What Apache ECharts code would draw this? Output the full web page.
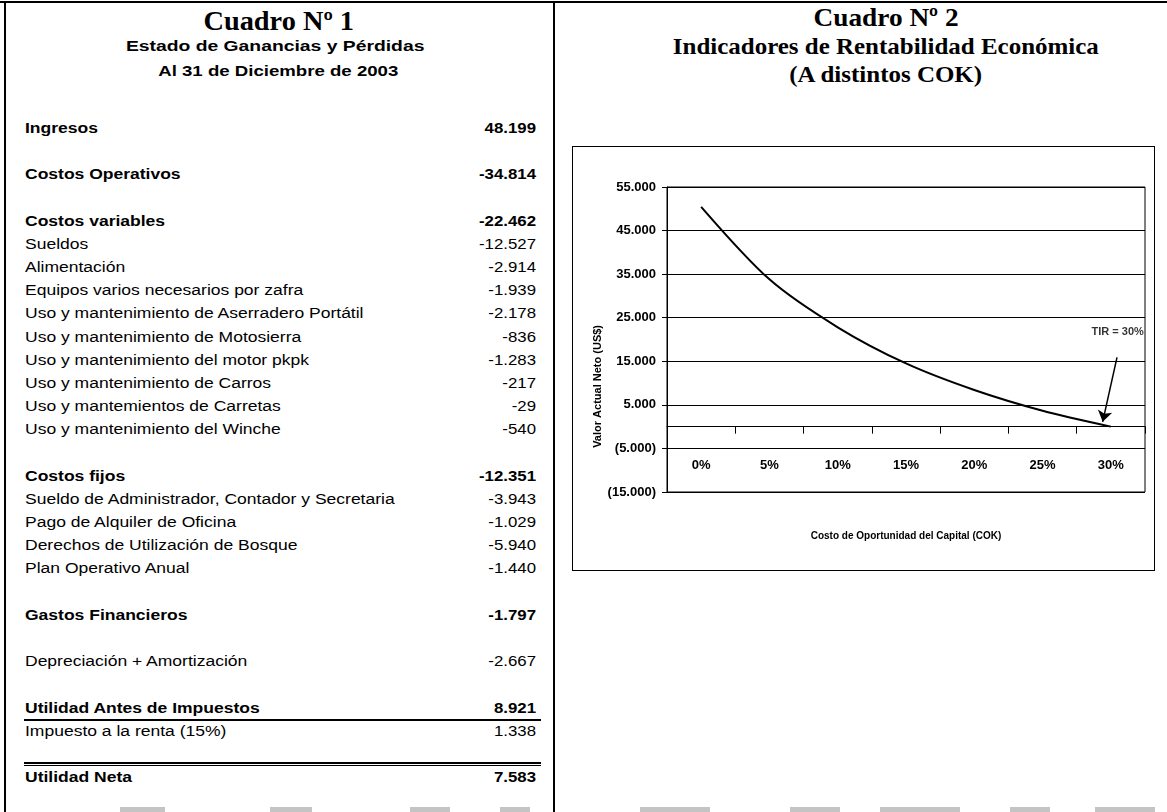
<!DOCTYPE html>
<html>
<head>
<meta charset="utf-8">
<script src="https://cdn.jsdelivr.net/npm/echarts@6/dist/echarts.min.js"></script>
<style>
  html, body { margin:0; padding:0; background:#fff; }
  body { width:1167px; height:812px; position:relative; overflow:hidden; color:#000;
         font-family:"Liberation Sans", Arial, sans-serif; }
  .abs { position:absolute; white-space:nowrap; }
  .serif { font-family:"Liberation Serif","Times New Roman",serif; font-weight:bold; }
  .row { font-size:14px; line-height:18px; height:18px; }
  .bold { font-weight:bold; }
  .rule { position:absolute; background:#000; }
  .scan { position:absolute; background:#c4c4c4; }
</style>
</head>
<body>
<div id="chart" style="position:absolute;left:572px;top:146px;width:583px;height:425px;border:1px solid #000;box-sizing:border-box;"></div>
<script>
// ---------------- DATA ----------------
const table1Title = 'Cuadro Nº 1';
const table1Sub = ['Estado de Ganancias y Pérdidas', 'Al 31 de Diciembre de 2003'];
// "" = empty spacer row
const tableLabels = [
  'Ingresos', '', 'Costos Operativos', '', 'Costos variables', 'Sueldos', 'Alimentación',
  'Equipos varios necesarios por zafra', 'Uso y mantenimiento de Aserradero Portátil',
  'Uso y mantenimiento de Motosierra', 'Uso y mantenimiento del motor pkpk',
  'Uso y mantenimiento de Carros', 'Uso y mantemientos de Carretas',
  'Uso y mantenimiento del Winche', '', 'Costos fijos',
  'Sueldo de Administrador, Contador y Secretaria', 'Pago de Alquiler de Oficina',
  'Derechos de Utilización de Bosque', 'Plan Operativo Anual', '', 'Gastos Financieros', '',
  'Depreciación + Amortización', '', 'Utilidad Antes de Impuestos', 'Impuesto a la renta (15%)', '',
  'Utilidad Neta'
];
const tableValues = [
  '48.199', null, '-34.814', null, '-22.462', '-12.527', '-2.914',
  '-1.939', '-2.178',
  '-836', '-1.283',
  '-217', '-29',
  '-540', null, '-12.351',
  '-3.943', '-1.029',
  '-5.940', '-1.440', null, '-1.797', null,
  '-2.667', null, '8.921', '1.338', null,
  '7.583'
];

const chartTitle = ['Cuadro Nº 2', 'Indicadores de Rentabilidad Económica', '(A distintos COK)'];
const categories = ['0%', '5%', '10%', '15%', '20%', '25%', '30%'];
const npvValues = [50450, 33800, 22800, 14500, 8400, 3640, 0];
const yMin = -15000, yMax = 55000, yInterval = 10000;
const yAxisTitle = 'Valor Actual Neto (US$)';
const xAxisTitle = 'Costo de Oportunidad del Capital (COK)';
const tirText = 'TIR = 30%';
// annotation anchor points in data units (x = category index, y = value)
const tirArrowFrom = [6.09, 15900];
const tirArrowTo = [5.88, 1100];
const tirTextAt = [6.1, 21800];

// ---------------- STYLE / LAYOUT ----------------
const boldRows = new Set(['Ingresos','Costos Operativos','Costos variables','Costos fijos',
  'Gastos Financieros','Utilidad Antes de Impuestos','Utilidad Neta']);
const rowTop0 = 128, rowStep = 23.18, labelLeft = 25, valueRight = 536;
const labelStretch = 1.25, valueStretch = 1.2;

function addDiv(cls, text, css) {
  const d = document.createElement('div');
  d.className = cls; d.textContent = text;
  Object.assign(d.style, css);
  document.body.appendChild(d);
  return d;
}
function rule(l, t, w, h, cls) {
  const d = document.createElement('div');
  d.className = cls || 'rule';
  Object.assign(d.style, {left:l+'px', top:t+'px', width:w+'px', height:h+'px'});
  document.body.appendChild(d);
}
// frame lines
rule(0, 1, 1167, 2);
rule(4, 1, 2, 811);
rule(553, 1, 2, 811);
// faint scan marks along bottom edge
[[120,45],[270,42],[410,40],[500,30],[640,70],[790,50],[880,80],[1010,40],[1095,60]]
  .forEach(s => rule(s[0], 807, s[1], 5, 'scan'));

// centred title helper (stretched horizontally)
function title(cls, text, cx, cy, size, sx) {
  const d = addDiv('abs ' + cls, text, {fontSize:size+'px', lineHeight:size+'px', top:(cy - size/2)+'px',
    left:'0px'});
  const w = d.getBoundingClientRect().width;
  d.style.left = (cx - w/2) + 'px';
  d.style.transform = 'scaleX(' + sx + ')';
  d.style.transformOrigin = 'center center';
}
title('serif', table1Title, 279, 21, 27, 1.05);
title('bold', table1Sub[0], 275, 46, 14, 1.38);
title('bold', table1Sub[1], 278, 71, 14, 1.33);

tableLabels.forEach((lab, i) => {
  if (!lab) return;
  const cy = rowTop0 + i * rowStep;
  const cls = 'abs row' + (boldRows.has(lab) ? ' bold' : '');
  addDiv(cls, lab, {left: labelLeft + 'px', top: (cy - 9) + 'px',
    transform:'scaleX(' + labelStretch + ')', transformOrigin:'left center'});
  if (tableValues[i] != null) {
    addDiv(cls, tableValues[i], {left:(valueRight - 150) + 'px', width:'150px', textAlign:'right',
      top:(cy - 9) + 'px', transform:'scaleX(' + valueStretch + ')', transformOrigin:'right center'});
  }
});
// underline below "Utilidad Antes de Impuestos" and double line above "Utilidad Neta"
const iUAI = tableLabels.indexOf('Utilidad Antes de Impuestos');
const iUN = tableLabels.indexOf('Utilidad Neta');
rule(labelLeft - 1, Math.round(rowTop0 + iUAI * rowStep + 11), valueRight - labelLeft + 6, 2);
rule(labelLeft - 1, Math.round(rowTop0 + iUN * rowStep - 15), valueRight - labelLeft + 6, 2);
rule(labelLeft - 1, Math.round(rowTop0 + iUN * rowStep - 12), valueRight - labelLeft + 6, 1);

// Right titles
title('serif', chartTitle[0], 886, 18, 26, 1.05);
title('serif', chartTitle[1], 886, 46, 24, 1.04);
title('serif', chartTitle[2], 886, 74, 24, 1.04);

// ---------------- CHART ----------------
const sans = '"Liberation Sans", Arial, sans-serif';
function fmtThousands(v) {
  const s = Math.abs(v).toFixed(0).replace(/\B(?=(\d{3})+(?!\d))/g, '.');
  return v < 0 ? '(' + s + ')' : s;
}
const chart = echarts.init(document.getElementById('chart'), null, {renderer:'canvas'});
chart.setOption({
  animation: false,
  backgroundColor: '#fff',
  grid: { left: 94, top: 40, right: 9, bottom: 78, show: true, borderColor: '#000', borderWidth: 1,
          containLabel: false, outerBoundsMode: 'none' },
  xAxis: [{
    type: 'category', data: categories, boundaryGap: true,
    axisLine: { onZero: true, lineStyle: { color: '#000', width: 1 } },
    axisTick: { show: true, length: 7, inside: false, lineStyle: { color: '#000' } },
    axisLabel: { color: '#000', margin: -33, fontFamily: sans, fontWeight: 'bold', fontSize: 13 },
    splitLine: { show: false },
    name: xAxisTitle, nameLocation: 'middle', nameGap: 39,
    nameTextStyle: { color: '#000', fontFamily: sans, fontWeight: 'bold', fontSize: 10 }
  }, {
    type: 'value', min: -0.5, max: 6.5, show: false
  }],
  yAxis: [{
    type: 'value', min: yMin, max: yMax, interval: yInterval,
    axisLine: { show: true, onZero: false, lineStyle: { color: '#000', width: 1 } },
    axisTick: { show: true, length: 5, lineStyle: { color: '#000' } },
    axisLabel: { color: '#000', margin: 11, fontFamily: sans, fontWeight: 'bold', fontSize: 13,
                 formatter: fmtThousands },
    splitLine: { show: true, lineStyle: { color: '#000', width: 1 } }
  }],
  graphic: [{
    type: 'text', left: 19, top: 178, rotation: Math.PI / 2,
    style: { text: yAxisTitle, fill: '#000', font: 'bold 11px ' + sans }
  }],
  series: [{
    type: 'line', data: npvValues, xAxisIndex: 0, yAxisIndex: 0,
    smooth: 0.3, showSymbol: false, symbol: 'none',
    lineStyle: { color: '#000', width: 2 }
  }, {
    type: 'lines', coordinateSystem: 'cartesian2d', xAxisIndex: 1, yAxisIndex: 0,
    data: [{ coords: [tirArrowFrom, tirArrowTo] }],
    symbol: ['none', 'arrow'], symbolSize: 11,
    lineStyle: { color: '#000', width: 1.5, opacity: 1 }
  }, {
    type: 'scatter', xAxisIndex: 1, yAxisIndex: 0, symbolSize: 0,
    data: [tirTextAt],
    label: { show: true, position: 'inside', formatter: tirText, color: '#000',
             fontFamily: sans, fontWeight: 'bold', fontSize: 11 }
  }]
});
</script>
</body>
</html>
